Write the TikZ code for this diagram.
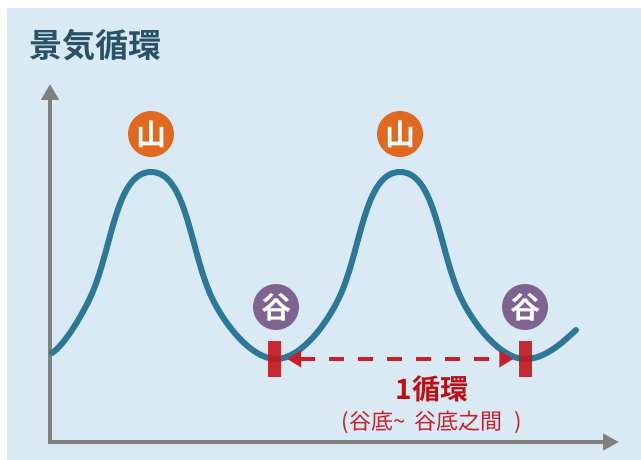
\documentclass[tikz,border=0pt]{standalone}
\usepackage{fontspec}
\newfontfamily\jp[BoldFont={* Bold}]{Noto Sans CJK JP}
\usetikzlibrary{arrows.meta}
\definecolor{bgc}{HTML}{DAEAF4}
\definecolor{curvec}{HTML}{2D7899}
\definecolor{axisc}{HTML}{808080}
\definecolor{orangec}{HTML}{E0691F}
\definecolor{purplec}{HTML}{7F6491}
\definecolor{barc}{HTML}{C4161C}
\definecolor{arrowc}{HTML}{C8202A}
\definecolor{darkred}{HTML}{C00D14}
\definecolor{titlec}{HTML}{2A5266}
\begin{document}
\begin{tikzpicture}[x=1pt,y=-1pt,
  axis/.style={draw=axisc,line width=4pt,line join=miter},
  curve/.style={draw=curvec,line width=6pt,line cap=round},
  badge/.style={circle,inner sep=0pt,minimum size=46pt,text=white,font=\jp\bfseries\fontsize{30}{32}\selectfont},
  peakbadge/.style={badge,fill=orangec},
  valleybadge/.style={badge,fill=purplec},
  barmark/.style={rectangle,inner sep=0pt,minimum width=13pt,minimum height=36pt,fill=barc,fill opacity=0.9},
  cyclearrow/.style={draw=arrowc,line width=4pt,dash pattern=on 15pt off 14pt,
    {Triangle[length=14pt,width=16pt]}-{Triangle[length=14pt,width=16pt]}},
  txt/.style={inner sep=0pt}]
\useasboundingbox (0,0) rectangle (641,460);
\fill[bgc] (7,8) rectangle (641,460);

% title
\node[txt,text=titlec,font=\jp\bfseries\fontsize{33}{36}\selectfont] (title) at (96,45) {景気循環};

% axes
\coordinate (O) at (50,442);
\coordinate (ytip) at (50,84);
\coordinate (xtip) at (619,442);
\draw[axis,{Triangle[length=16pt,width=17pt]}-{Triangle[length=16pt,width=16pt]}] (ytip) -- (O) -- (xtip);

% curve
\draw[curve] (52,353) .. controls (64,345) and (80,319) .. (90,298)
 .. controls (112,251.8) and (115,172) .. (151,172)
 .. controls (187,172) and (190,251.8) .. (212,298)
 .. controls (224,323.2) and (251,359) .. (276,359)
 .. controls (301,359) and (327,323.2) .. (339,298)
 .. controls (361,251.8) and (364,172) .. (400,172)
 .. controls (436,172) and (439,251.8) .. (461,298)
 .. controls (473,323.2) and (500,359) .. (525,359)
 .. controls (545,359) and (562,343) .. (576,330);

% badges
\node[peakbadge] (peak1) at (151,134) {山};
\node[peakbadge] (peak2) at (400,134) {山};
\node[valleybadge] (valley1) at (276,307) {谷};
\node[valleybadge] (valley2) at (525,307) {谷};

% bars and arrow
\node[barmark] (bar1) at (274.5,359) {};
\node[barmark] (bar2) at (525,359) {};
\draw[cyclearrow,shorten <=6pt,shorten >=5pt] (bar1.east) -- (bar2.west);

% labels
\node[txt,text=darkred,font=\jp\bfseries\fontsize{28}{30}\selectfont] (cycle) at (432,389) {1循環};
\node[txt,text=arrowc,font=\jp\fontsize{22}{24}\selectfont] (sub) at (432,422) {(谷底\char`~\hspace{9pt}谷底之間\hspace{12pt})};
\end{tikzpicture}
\end{document}
